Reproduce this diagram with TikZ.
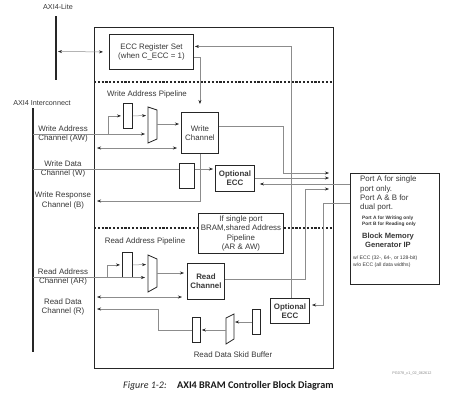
\documentclass[tikz,border=0pt]{standalone}
\usepackage{fontspec}
\setmainfont{Liberation Sans}
\newfontfamily\capfont{Carlito}
\usetikzlibrary{arrows.meta}
\definecolor{lgray}{gray}{0.55}
\definecolor{dk}{gray}{0.15}
\definecolor{txtc}{gray}{0.22}
\tikzset{
 box/.style={draw=dk, line width=0.9pt, fill=white, inner sep=0pt, anchor=north west, align=center, text=txtc, font=\fontsize{7.9}{9.3}\selectfont},
 bbox/.style={box, font=\fontsize{7.9}{9.3}\selectfont\bfseries},
 regbox/.style={draw=dk, line width=0.8pt, fill=white, inner sep=0pt, anchor=north west},
 wire/.style={draw=lgray, line width=0.5pt},
 arr/.style={wire, -{Stealth[length=4pt,width=3pt,color=dk]}},
 darr/.style={wire, {Stealth[length=4pt,width=3pt,color=dk]}-{Stealth[length=4pt,width=3pt,color=dk]}},
 lbl/.style={text=txtc, font=\fontsize{7.9}{9.3}\selectfont, align=center, inner sep=0pt},
 buswire/.style={draw=dk, line width=1.6pt},
 dashsep/.style={draw=dk, line width=1.1pt, dash pattern=on 2.2pt off 1.6pt},
 muxs/.style={draw=dk, line width=0.8pt, fill=white},
}
\begin{document}
\begin{tikzpicture}[x=1pt,y=-1pt]
\useasboundingbox (0,0) rectangle (460,400);
\fill[white] (0,0) rectangle (460,400);

% main controller box
\node[draw=dk, line width=1pt, minimum width=239pt, minimum height=341pt, anchor=north west, inner sep=0pt] (main) at (94,27) {};
\draw[dashsep] (main.west |- 0,82) -- (main.east |- 0,82);
\draw[dashsep] (main.west |- 0,228) -- (main.east |- 0,228);

% interface bars
\coordinate (lt) at (56,16); \coordinate (lb) at (56,80);
\draw[buswire] (lt) -- (lb);
\coordinate (it) at (33,108); \coordinate (ib) at (33,352);
\draw[buswire] (it) -- (ib);

% labels
\node[lbl, font=\fontsize{7.2}{8.5}\selectfont] (axilite) at (58,7) {AXI4-Lite};
\node[lbl, font=\fontsize{7.2}{8.5}\selectfont] (axiint) at (42,103) {AXI4 Interconnect};
\node[lbl] (lawc) at (63,134) {Write Address\\Channel (AW)};
\node[lbl] (lwdc) at (63,169) {Write Data\\Channel (W)};
\node[lbl] (lwrc) at (63,200.5) {Write Response\\Channel (B)};
\node[lbl] (larc) at (63,277) {Read Address\\Channel (AR)};
\node[lbl] (lrdc) at (63,307) {Read Data\\Channel (R)};
\node[lbl] (wap) at (147,94) {Write Address Pipeline};
\node[lbl] (rap) at (145,241) {Read Address Pipeline};
\node[lbl] (rdsb) at (233,355) {Read Data Skid Buffer};

% boxes
\node[box, minimum width=84pt, minimum height=35pt] (eccreg) at (109,34) {ECC Register Set\\(when C\_ECC = 1)};
\node[box, minimum width=37pt, minimum height=41pt] (wch) at (181,112) {Write\\Channel};
\node[regbox, minimum width=9pt, minimum height=25pt] (wreg) at (123,103) {};
\node[regbox, minimum width=15pt, minimum height=25pt] (wdreg) at (179,163) {};
\node[bbox, minimum width=39pt, minimum height=26pt] (oecc1) at (215,165) {Optional\\ECC};
\node[box, minimum width=85pt, minimum height=40pt] (spbox) at (198,213) {If single port\\BRAM,shared Address\\Pipeline\\(AR \& AW)};
\node[regbox, minimum width=10pt, minimum height=25pt] (rreg) at (122,252) {};
\node[bbox, minimum width=37pt, minimum height=36pt] (rch) at (187,263) {Read\\Channel};
\node[regbox, minimum width=8pt, minimum height=25pt] (sk1) at (192,317) {};
\node[regbox, minimum width=8pt, minimum height=25pt] (sk2) at (252,309) {};
\node[bbox, minimum width=39pt, minimum height=25pt] (oecc2) at (270,298) {Optional\\ECC};
\node[draw=dk, line width=0.9pt, fill=white, minimum width=89pt, minimum height=111pt, anchor=north west, inner sep=0pt] (bmg) at (350,173) {};

% block memory texts
\node[lbl, anchor=north west, align=left] (bmt1) at (360,176) {Port A for single\\port only.\\Port A \& B for\\dual port.};
\node[lbl, anchor=west, align=left, font=\fontsize{4.8}{6}\selectfont\bfseries] (bmt2) at (362,221) {Port A for Writing only\\Port B for Reading only};
\node[lbl, font=\fontsize{7.6}{8.6}\selectfont\bfseries] (bmt3) at (388,240) {Block Memory\\Generator IP};
\node[lbl, anchor=west, align=left, font=\fontsize{5.1}{7}\selectfont] (bmt4) at (353,261.5) {w/ ECC (32-, 64-, or 128-bit)\\w/o ECC (all data widths)};

% multiplexers
\draw[muxs] (148,107) -- (157,110) -- (157,139) -- (148,143) -- cycle;
\coordinate (wm1) at (148,115.5); \coordinate (wm2) at (148,134); \coordinate (wmo) at (157,124);
\draw[muxs] (148,255) -- (157,259) -- (157,287) -- (148,292) -- cycle;
\coordinate (rm1) at (148,264.5); \coordinate (rm2) at (148,277.5); \coordinate (rmo) at (157,273);
\draw[muxs] (226,318) -- (234,314) -- (234,339) -- (226,344) -- cycle;
\coordinate (skin) at (234,322); \coordinate (skout) at (226,330);

% AXI4-Lite
\coordinate (litep) at (57,51.5);
\draw[darr, shorten >=6pt, shorten <=1pt] (litep) -- (eccreg.west);
\draw[arr, shorten >=8pt] ([yshift=-5.5pt]eccreg.east) -| (wch.north);

% write address path
\coordinate (aw) at (33,134); \coordinate (awb) at (108,134);
\draw[arr, shorten >=3pt] (aw) -- (wm2);
\draw[arr, shorten >=2pt] (awb) |- (wreg.west);
\draw[arr, shorten >=2pt] (wreg.east) -- (wm1);
\draw[arr, shorten >=2pt] (wmo) -- (wch.west |- wmo);
\coordinate (wd1) at (97,148); \coordinate (wd2) at (177,148);
\draw[darr] (wd1) -- (wd2);

% write data / response
\coordinate (wdat) at (33,169);
\draw[wire] (wdat) -- (wdreg.west |- wdat);
\draw[arr, shorten >=2pt] (wdreg.east |- wdat) -- (oecc1.west |- wdat);
\coordinate (bresp) at (97,201);
\draw[arr] (wch.south) |- (bresp);

% to / from block memory
\coordinate (wbr) at (329,173);
\draw[arr] ([yshift=6.5pt]wch.east) -- ++(64,0) |- (wbr);
\coordinate (wdbr) at (329,178);
\draw[arr] (oecc1.east |- wdbr) -- (wdbr);
\coordinate (bm1) at (350,184);
\draw[arr, shorten >=5pt] (bm1) -- (oecc1.east |- bm1);
\coordinate (rbr) at (329,189);
\draw[arr] ([yshift=2pt]rch.east) -- ++(80,0) |- (rbr);
\coordinate (bm2) at (350,203); \coordinate (oe2in) at (309,305);
\draw[arr, shorten >=3pt] (bm2) -- ++(-27,0) |- (oe2in);
\draw[arr, shorten >=1pt] ([xshift=1.5pt]oecc2.north) |- ([yshift=5.5pt]eccreg.east);

% read address path
\coordinate (ar) at (33,277.5); \coordinate (arb) at (107,277.5);
\draw[arr, shorten >=3pt] (ar) -- (rm2);
\draw[arr, shorten >=2pt] (arb) |- (rreg.west);
\draw[arr, shorten >=2pt] (rreg.east) -- (rm1);
\draw[arr, shorten >=3pt] (rmo) -- (rch.west |- rmo);
\coordinate (rd1) at (97,297); \coordinate (rd2) at (182,297);
\draw[darr] (rd1) -- (rd2);

% read data path
\coordinate (rdat) at (97,309); \coordinate (rbend) at (158,309);
\draw[arr] (sk1.west |- 0,330) -| (rbend) -- (rdat);
\draw[arr, shorten >=1pt] (skout) -- (sk1.east |- skout);
\draw[arr, shorten >=1pt] (sk2.west |- skin) -- (skin);

% caption
\node[anchor=west, inner sep=0pt, text=black!85] (figlbl) at (123,386) {\capfont\fontsize{10}{12}\selectfont\itshape Figure 1-2:};
\node[anchor=west, inner sep=0pt, text=black!90] (captxt) at (177,386) {\capfont\fontsize{10.2}{12}\selectfont\bfseries AXI4 BRAM Controller Block Diagram};
\node[inner sep=0pt, text=black!45, font=\fontsize{3.8}{4}\selectfont] (pgid) at (412,374) {PG078\_c1\_02\_062612};
\end{tikzpicture}
\end{document}
